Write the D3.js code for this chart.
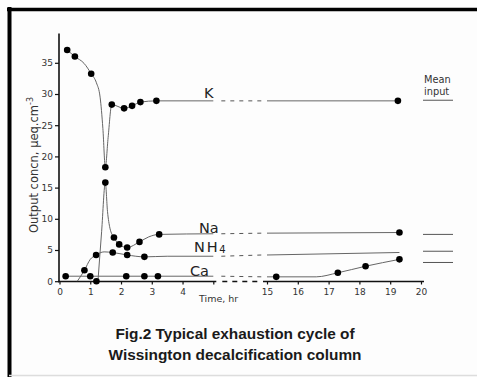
<!DOCTYPE html>
<html lang="en">
<head>
  <meta charset="utf-8"/>
  <script src="https://d3js.org/d3.v7.min.js"></script>
  <style>
    body { margin: 0; background: #fff; }
    svg { display: block; }
    .tick text {
      font-family: "DejaVu Sans", sans-serif;
      font-size: 9px;
      fill: #333;
    }
    .tick line { stroke: #111; stroke-width: 1.2px; }
    .curve { fill: none; stroke: #666; stroke-width: 1px; }
    .gap { fill: none; stroke: #555; stroke-width: 1px; stroke-dasharray: 4,5; }
    .dot { fill: #000; }
    .ion { font-family: "DejaVu Sans", sans-serif; font-size: 14.5px; fill: #222; }
    .small { font-family: "DejaVu Sans", sans-serif; font-size: 9.5px; fill: #333; }
    .caption { font-family: "Liberation Sans", Arial, sans-serif; font-weight: bold; font-size: 15.4px; fill: #1a1a1a; }
  </style>
</head>
<body>
<div id="chart"></div>
<script>
  // --- data (time in hr, concentration in ueq/cm3) ---
  const kTime   = [0.25, 0.5, 1.03, 1.49, 1.7, 2.1, 2.36, 2.63, 3.15, 19.25];
  const kVal    = [37.05, 36.0, 33.25, 18.25, 28.3, 27.7, 28.1, 28.7, 28.9, 28.9];
  const naTime  = [1.2, 1.49, 1.77, 1.94, 2.2, 2.6, 3.24, 19.3];
  const naVal   = [0.0, 15.8, 7.0, 5.9, 5.4, 6.3, 7.5, 7.8];
  const nh4Time = [0.81, 1.19, 1.73, 2.2, 2.76];
  const nh4Val  = [1.75, 4.2, 4.6, 4.2, 3.9];
  const caTime  = [0.2, 1.0, 2.17, 2.76, 3.2, 15.3, 17.3, 18.2, 19.3];
  const caVal   = [0.8, 0.8, 0.8, 0.8, 0.8, 0.7, 1.35, 2.4, 3.5];

  // hand-drawn trend lines (knots), before and after the break
  const kLineEarly   = [[0.25, 37.05], [0.5, 36.0], [0.8, 34.9], [1.03, 33.25], [1.2, 31.8], [1.32, 29.5],
                        [1.41, 24.5], [1.49, 18.25], [1.58, 23], [1.7, 28.3], [2.1, 27.7], [2.36, 28.1],
                        [2.63, 28.7], [3.15, 28.9], [5, 28.9]];
  const kLineLate    = [[15, 28.9], [19.25, 28.9]];
  const naLineEarly  = [[1.25, 0], [1.37, 8], [1.49, 15.8], [1.56, 11.2], [1.64, 8.5], [1.77, 7.0],
                        [1.94, 5.9], [2.2, 5.4], [2.6, 6.3], [2.9, 7.1], [3.24, 7.5], [5, 7.6]];
  const naLineLate   = [[15, 7.7], [19.3, 7.8]];
  const nh4LineEarly = [[0.58, 0], [0.81, 1.75], [1.0, 3.5], [1.19, 4.2], [1.45, 4.7], [1.73, 4.6],
                        [2.2, 4.2], [2.76, 3.9], [3.5, 4.0], [5, 4.0]];
  const nh4LineLate  = [[15, 4.2], [19.3, 4.6]];
  const caLineEarly  = [[0.2, 0.8], [5, 0.8]];
  const caLineLate   = [[15, 0.7], [16.6, 0.7], [17.3, 1.35], [18.2, 2.4], [19.3, 3.5]];

  const meanInput = [29.0, 7.5, 4.8, 3.0];   // K, Na, NH4, Ca

  const yTicks = [0, 5, 10, 15, 20, 25, 30, 35];
  const xTicks = [0, 1, 2, 3, 4, 5, 15, 16, 17, 18, 19, 20];

  const W = 477, H = 377;
  const svg = d3.select("#chart").append("svg").attr("width", W).attr("height", H);
  svg.append("rect").attr("width", W).attr("height", H).attr("fill", "#fdfdfd");

  // frame edges of the scanned page
  svg.append("line").attr("x1", 7).attr("x2", W).attr("y1", 9.5).attr("y2", 9.5)
    .attr("stroke", "#000").attr("stroke-width", 3.5);
  svg.append("line").attr("x1", 9.5).attr("x2", 9.5).attr("y1", 7).attr("y2", H)
    .attr("stroke", "#000").attr("stroke-width", 4);
  svg.append("line").attr("x1", 9).attr("x2", W).attr("y1", 375.5).attr("y2", 375.5)
    .attr("stroke", "#ddd").attr("stroke-width", 1.5);

  // broken time axis: 0-5 hr, then 15-20 hr
  const x = d3.scaleLinear().domain([0, 5, 15, 20]).range([59.5, 213.3, 267, 421]);
  const y = d3.scaleLinear().domain([0, 35]).range([281.2, 62.8]);
  const yTop = 39.7;

  // y axis
  const yAxis = svg.append("g").attr("transform", "translate(59,0)")
    .call(d3.axisLeft(y).tickValues(yTicks).tickSize(4).tickPadding(2));
  yAxis.select(".domain").remove();
  svg.append("line").attr("x1", 59).attr("x2", 59).attr("y1", y(yTop)).attr("y2", y(0) + 1)
    .attr("stroke", "#111").attr("stroke-width", 1.6);

  // x axis
  const xAxis = svg.append("g").attr("transform", "translate(0,281.5)")
    .call(d3.axisBottom(x).tickValues(xTicks).tickSize(3).tickPadding(4)
      .tickFormat(d => d === 5 ? "" : d));
  xAxis.select(".domain").remove();
  svg.append("line").attr("x1", 58).attr("x2", x(5) + 3).attr("y1", 281.5).attr("y2", 281.5)
    .attr("stroke", "#111").attr("stroke-width", 1.6);
  svg.append("line").attr("x1", x(15) - 4).attr("x2", x(20) + 3).attr("y1", 281.5).attr("y2", 281.5)
    .attr("stroke", "#111").attr("stroke-width", 1.6);
  svg.append("line").attr("x1", x(5) + 9).attr("x2", x(15) - 6).attr("y1", 281.5).attr("y2", 281.5)
    .attr("stroke", "#111").attr("stroke-width", 1.4).attr("stroke-dasharray", "5,5");

  svg.append("text").attr("class", "small").attr("x", 199).attr("y", 302).text("Time, hr");

  const yl = svg.append("text").attr("class", "small")
    .style("font-size", "11.5px")
    .attr("text-anchor", "middle")
    .attr("transform", "translate(38,165) rotate(-90)");
  yl.append("tspan").text("Output concn, \u03bceq.cm");
  yl.append("tspan").attr("dy", -5).style("font-size", "8px").text("-3");

  // series
  const line = d3.line().x(d => x(d[0])).y(d => y(d[1])).curve(d3.curveMonotoneX);
  const series = [
    { early: kLineEarly, late: kLineLate },
    { early: naLineEarly, late: naLineLate },
    { early: nh4LineEarly, late: nh4LineLate },
    { early: caLineEarly, late: caLineLate }
  ];
  series.forEach(s => {
    svg.append("path").attr("class", "curve").attr("d", line(s.early));
    svg.append("path").attr("class", "curve").attr("d", line(s.late));
    const a = s.early[s.early.length - 1], b = s.late[0];
    svg.append("line").attr("class", "gap")
      .attr("x1", x(a[0]) + 8).attr("y1", y(a[1]))
      .attr("x2", x(b[0]) - 5).attr("y2", y(b[1]));
  });

  // mean input marks
  svg.selectAll(".mean").data(meanInput).enter().append("line")
    .attr("x1", 423).attr("x2", 453)
    .attr("y1", d => y(d)).attr("y2", d => y(d))
    .attr("stroke", "#555").attr("stroke-width", 1);
  svg.append("text").attr("class", "small").style("font-size", "9.8px").attr("x", 424).attr("y", 83).text("Mean");
  svg.append("text").attr("class", "small").style("font-size", "9.8px").attr("x", 424).attr("y", 95).text("input");

  // points
  const pts = [];
  [[kTime, kVal], [naTime, naVal], [nh4Time, nh4Val], [caTime, caVal]].forEach(([t, v]) => {
    t.forEach((ti, i) => pts.push([ti, v[i]]));
  });
  svg.selectAll(".dot").data(pts).enter().append("circle")
    .attr("class", "dot").attr("cx", d => x(d[0])).attr("cy", d => y(d[1])).attr("r", 3.3);

  // ion labels
  svg.append("text").attr("class", "ion").attr("x", 204).attr("y", 98).text("K");
  svg.append("text").attr("class", "ion").attr("x", 199).attr("y", 233).text("Na");
  const nh = svg.append("text").attr("class", "ion").attr("x", 194).attr("y", 252)
    .attr("letter-spacing", "1.8px");
  nh.append("tspan").text("NH");
  nh.append("tspan").style("font-size", "10px").attr("dy", 1).text("4");
  svg.append("text").attr("class", "ion").attr("x", 190).attr("y", 276).text("Ca");

  // caption
  svg.append("text").attr("class", "caption").attr("x", 235).attr("y", 339)
    .attr("text-anchor", "middle").text("Fig.2 Typical exhaustion cycle of");
  svg.append("text").attr("class", "caption").attr("x", 235).attr("y", 360)
    .attr("text-anchor", "middle").text("Wissington decalcification column");
</script>
</body>
</html>
